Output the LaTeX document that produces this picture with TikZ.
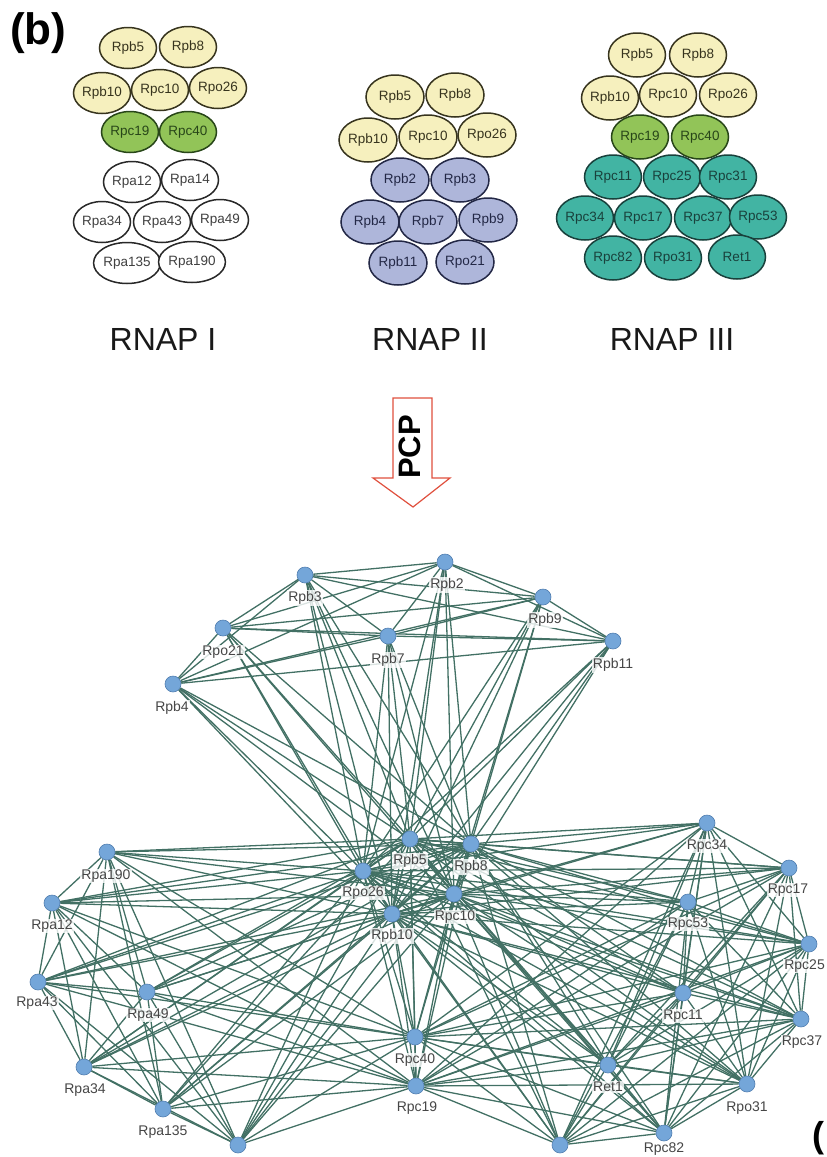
\documentclass[tikz,border=0pt]{standalone}
\usepackage{fontspec}
\setmainfont{Liberation Sans}
\usetikzlibrary{shapes.geometric}
\pgfdeclarelayer{bg}
\pgfsetlayers{bg,main}
\definecolor{yelfill}{RGB}{246,240,190}
\definecolor{yeldraw}{RGB}{55,52,30}
\definecolor{grnfill}{RGB}{146,196,88}
\definecolor{grndraw}{RGB}{40,70,25}
\definecolor{bluefill}{RGB}{174,182,218}
\definecolor{bluedraw}{RGB}{35,40,70}
\definecolor{tealfill}{RGB}{66,180,163}
\definecolor{tealdraw}{RGB}{25,65,60}
\definecolor{wdraw}{RGB}{40,40,40}
\definecolor{nodefill}{RGB}{116,166,217}
\definecolor{nodedraw}{RGB}{80,125,175}
\definecolor{edgecol}{RGB}{66,112,100}
\definecolor{labgray}{RGB}{70,70,70}
\definecolor{arrred}{RGB}{224,80,62}
\newcommand\mkclique[1]{%
  \foreach \a [count=\i] in {#1} {%
    \foreach \b [count=\j] in {#1} {%
      \ifnum\j>\i \draw[netedge] (\a) -- (\b);\fi}}}
\begin{document}
\begin{tikzpicture}[x=1pt,y=-1pt,
  sub/.style={ellipse, line width=1.5pt, inner sep=0pt,
    font=\fontsize{13.5}{14}\selectfont},
  subI/.style={sub, minimum width=57pt, minimum height=41pt},
  subII/.style={sub, minimum width=58pt, minimum height=44pt},
  subIII/.style={sub, minimum width=57pt, minimum height=44pt},
  yel/.style={fill=yelfill, draw=yeldraw, text=yeldraw},
  grn/.style={fill=grnfill, draw=grndraw, text=grndraw},
  wht/.style={fill=white, draw=wdraw, text=black!75},
  blu/.style={fill=bluefill, draw=bluedraw, text=bluedraw},
  tea/.style={fill=tealfill, draw=tealdraw, text=tealdraw},
  pn/.style={circle, fill=nodefill, draw=nodedraw, line width=0.6pt,
    minimum size=16pt, inner sep=0pt},
  plab/.style={font=\fontsize{14}{14}\selectfont, text=labgray,
    fill=white, fill opacity=0.8, text opacity=1, inner sep=1pt},
  netedge/.style={draw=edgecol, line width=1.3pt},
  rnap/.style={font=\fontsize{32}{32}\selectfont, text=black!90}
]
\useasboundingbox (0,0) rectangle (827,1157);
\clip (0,0) rectangle (827,1157);

% panel label
\node[anchor=base west, font=\fontsize{44}{44}\selectfont\bfseries, inner sep=0pt] (panelb) at (10,44) {(b)};

% ---------- RNAP I ----------
\node[subI,yel] (Ib5)  at (128,48) {Rpb5};
\node[subI,yel] (Ib8)  at (188,47) {Rpb8};
\node[subI,yel] (Ib10) at (102,93) {Rpb10};
\node[subI,yel] (Ic10) at (160,90) {Rpc10};
\node[subI,yel] (Io26) at (218,88) {Rpo26};
\node[subI,grn] (Ic19) at (130,132) {Rpc19};
\node[subI,grn] (Ic40) at (188,132) {Rpc40};
\node[subI,wht] (Ia12) at (132,182) {Rpa12};
\node[subI,wht] (Ia14) at (190,180) {Rpa14};
\node[subI,wht] (Ia34) at (102,222) {Rpa34};
\node[subI,wht] (Ia43) at (162,222) {Rpa43};
\node[subI,wht] (Ia49) at (220,220) {Rpa49};
\node[subI,wht] (Ia135) at (127,263) {Rpa135};
\node[subI,wht] (Ia190) at (192,262) {Rpa190};

% ---------- RNAP II ----------
\node[subII,yel] (IIb5)  at (395,97) {Rpb5};
\node[subII,yel] (IIb8)  at (455,95) {Rpb8};
\node[subII,yel] (IIb10) at (368,140) {Rpb10};
\node[subII,yel] (IIc10) at (428,137) {Rpc10};
\node[subII,yel] (IIo26) at (487,135) {Rpo26};
\node[subII,blu] (IIb2)  at (400,180) {Rpb2};
\node[subII,blu] (IIb3)  at (460,180) {Rpb3};
\node[subII,blu] (IIb4)  at (370,222) {Rpb4};
\node[subII,blu] (IIb7)  at (428,222) {Rpb7};
\node[subII,blu] (IIb9)  at (488,220) {Rpb9};
\node[subII,blu] (IIb11) at (398,263) {Rpb11};
\node[subII,blu] (IIo21) at (465,262) {Rpo21};

% ---------- RNAP III ----------
\node[subIII,yel] (IIIb5)  at (637,55) {Rpb5};
\node[subIII,yel] (IIIb8)  at (698,55) {Rpb8};
\node[subIII,yel] (IIIb10) at (610,98) {Rpb10};
\node[subIII,yel] (IIIc10) at (668,95) {Rpc10};
\node[subIII,yel] (IIIo26) at (728,95) {Rpo26};
\node[subIII,grn] (IIIc19) at (640,137) {Rpc19};
\node[subIII,grn] (IIIc40) at (700,137) {Rpc40};
\node[subIII,tea] (IIIc11) at (613,177) {Rpc11};
\node[subIII,tea] (IIIc25) at (672,177) {Rpc25};
\node[subIII,tea] (IIIc31) at (728,177) {Rpc31};
\node[subIII,tea] (IIIc34) at (585,218) {Rpc34};
\node[subIII,tea] (IIIc17) at (643,218) {Rpc17};
\node[subIII,tea] (IIIc37) at (703,218) {Rpc37};
\node[subIII,tea] (IIIc53) at (758,217) {Rpc53};
\node[subIII,tea] (IIIc82) at (613,258) {Rpc82};
\node[subIII,tea] (IIIo31) at (673,258) {Rpo31};
\node[subIII,tea] (IIIret1) at (737,257) {Ret1};

% captions
\node[rnap] (capI)   at (163,339) {RNAP I};
\node[rnap] (capII)  at (430,339) {RNAP II};
\node[rnap] (capIII) at (672,339) {RNAP III};

% PCP arrow
\draw[arrred, line width=1.2pt, fill=white, line join=miter]
  (393,398) -- (432,398) -- (432,478) -- (450,478) -- (413,507)
  -- (373,478) -- (393,478) -- cycle;
\node[rotate=90, font=\fontsize{31}{31}\selectfont\bfseries] (pcp) at (410,447) {PCP};

% ---------- network nodes ----------
% RNAP II specific
\node[pn] (b2)  at (445,562) {};
\node[pn] (b3)  at (305,575) {};
\node[pn] (b9)  at (543,597) {};
\node[pn] (o21) at (223,628) {};
\node[pn] (b7)  at (388,636) {};
\node[pn] (b11) at (613,641) {};
\node[pn] (b4)  at (173,684) {};
% common
\node[pn] (b5)  at (410,839) {};
\node[pn] (b8)  at (471,844) {};
\node[pn] (o26) at (363,871) {};
\node[pn] (c10) at (454,894) {};
\node[pn] (b10) at (392,914) {};
\node[pn] (c40) at (415,1037) {};
\node[pn] (c19) at (416,1086) {};
% RNAP I specific
\node[pn] (a190) at (107,852) {};
\node[pn] (a12)  at (52,903) {};
\node[pn] (a43)  at (38,982) {};
\node[pn] (a49)  at (147,992) {};
\node[pn] (a34)  at (84,1067) {};
\node[pn] (a135) at (163,1109) {};
\node[pn] (a14)  at (238,1145) {};
% RNAP III specific
\node[pn] (c34)  at (707,823) {};
\node[pn] (c17)  at (789,868) {};
\node[pn] (c53)  at (688,902) {};
\node[pn] (c25)  at (809,944) {};
\node[pn] (c11)  at (683,993) {};
\node[pn] (c37)  at (801,1019) {};
\node[pn] (ret1) at (608,1065) {};
\node[pn] (o31)  at (747,1084) {};
\node[pn] (c82)  at (664,1133) {};
\node[pn] (c31)  at (560,1145) {};

% edges
\begin{pgfonlayer}{bg}
\mkclique{b2,b3,b9,o21,b7,b11,b4,b5,b8,o26,c10,b10}
\mkclique{a190,a12,a43,a49,a34,a135,a14,c40,c19,b5,b8,o26,c10,b10}
\mkclique{c34,c17,c53,c25,c11,c37,ret1,o31,c82,c31,c40,c19}
\foreach \p in {c34,c17,c53,c25,c11,c37,ret1,o31,c82,c31}
  \foreach \q in {b5,b8,o26,c10,b10}
    \draw[netedge] (\p) -- (\q);
\end{pgfonlayer}

% labels
\node[plab] (b2l)  at (447,585) {Rpb2};
\node[plab] (b3l)  at (305,598) {Rpb3};
\node[plab] (b9l)  at (545,620) {Rpb9};
\node[plab] (o21l) at (223,652) {Rpo21};
\node[plab] (b7l)  at (388,660) {Rpb7};
\node[plab] (b11l) at (613,665) {Rpb11};
\node[plab] (b4l)  at (172,708) {Rpb4};
\node[plab] (b5l)  at (410,861) {Rpb5};
\node[plab] (b8l)  at (471,867) {Rpb8};
\node[plab] (o26l) at (363,893) {Rpo26};
\node[plab] (c10l) at (455,917) {Rpc10};
\node[plab] (b10l) at (392,936) {Rpb10};
\node[plab] (c40l) at (415,1060) {Rpc40};
\node[plab] (c19l) at (417,1108) {Rpc19};
\node[plab] (a190l) at (106,876) {Rpa190};
\node[plab] (a12l)  at (52,926) {Rpa12};
\node[plab] (a43l)  at (37,1003) {Rpa43};
\node[plab] (a49l)  at (148,1015) {Rpa49};
\node[plab] (a34l)  at (85,1090) {Rpa34};
\node[plab] (a135l) at (163,1132) {Rpa135};
\node[plab] (c34l)  at (707,846) {Rpc34};
\node[plab] (c17l)  at (788,890) {Rpc17};
\node[plab] (c53l)  at (688,924) {Rpc53};
\node[plab, anchor=east] (c25l) at (826,966) {Rpc25};
\node[plab] (c11l)  at (683,1016) {Rpc11};
\node[plab] (c37l)  at (802,1042) {Rpc37};
\node[plab] (ret1l) at (608,1087) {Ret1};
\node[plab] (o31l)  at (747,1108) {Rpo31};
\node[plab] (c82l)  at (664,1149) {Rpc82};

% cut-off panel label at bottom right
\node[anchor=base west, font=\fontsize{36}{36}\selectfont\bfseries, inner sep=0pt] (panelc) at (812,1147) {(};
\end{tikzpicture}
\end{document}
